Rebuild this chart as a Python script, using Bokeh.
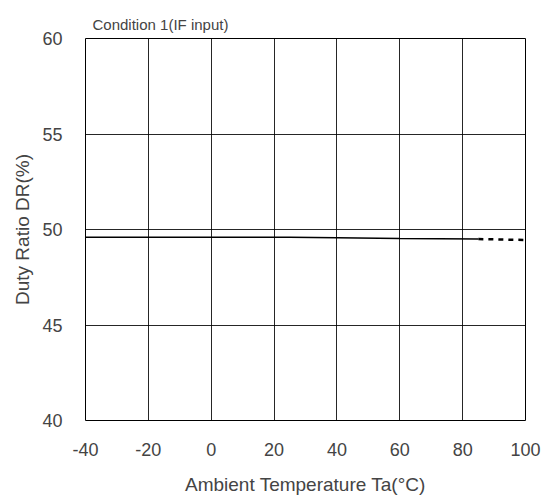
from bokeh.plotting import figure
from bokeh.models import FixedTicker, Range1d
from bokeh.embed import file_html
from bokeh.resources import INLINE

x_ticks = [-40, -20, 0, 20, 40, 60, 80, 100]
x_labels = ["-40", "-20", "0", "20", "40", "60", "80", "100"]
y_ticks = [40, 45, 50, 55, 60]

solid_t = [-40, -20, 0, 25, 40, 60, 85]
solid_dr = [49.6, 49.6, 49.6, 49.6, 49.57, 49.53, 49.5]
dash_t = [85, 100]
dash_dr = [49.5, 49.45]

p = figure(width=549, height=497, output_backend="svg", toolbar_location=None,
           x_range=Range1d(-40, 100), y_range=Range1d(40, 60),
           min_border_left=85, min_border_right=24, min_border_top=38, min_border_bottom=75)

p.title.text = "Condition 1(IF input)"
p.title.text_font = "Liberation Sans"
p.title.text_font_size = "15px"
p.title.text_font_style = "normal"
p.title.align = "left"
p.title.offset = 7
p.title.standoff = 11

p.line(solid_t, solid_dr, line_color="black", line_width=1.5)
p.line(dash_t, dash_dr, line_color="black", line_width=2.5, line_dash="5 5")

for ax in (p.xaxis, p.yaxis):
    ax.major_tick_line_color = None
    ax.minor_tick_line_color = None
    ax.axis_line_color = None
    ax.major_label_text_font = "Liberation Sans"
    ax.major_label_text_font_size = "18px"
    ax.axis_label_text_font = "Liberation Sans"
    ax.axis_label_text_font_size = "19px"
    ax.axis_label_text_font_style = "normal"

p.xaxis.ticker = FixedTicker(ticks=x_ticks)
p.xaxis.major_label_overrides = {t: s for t, s in zip(x_ticks, x_labels)}
p.yaxis.ticker = FixedTicker(ticks=y_ticks)
p.xaxis.axis_label = "Ambient Temperature Ta(°C)"
p.yaxis.axis_label = "Duty Ratio DR(%)"
p.xaxis.major_label_standoff = 16
p.yaxis.major_label_standoff = 17
p.xaxis.axis_label_standoff = 15
p.yaxis.axis_label_standoff = 6

p.grid.grid_line_color = "black"
p.grid.grid_line_alpha = 0.85
p.grid.grid_line_width = 1
p.xgrid.ticker = FixedTicker(ticks=x_ticks)
p.ygrid.ticker = FixedTicker(ticks=y_ticks)

p.outline_line_color = "black"
p.outline_line_width = 1
p.background_fill_color = "white"
p.border_fill_color = "white"

open("out.html", "w").write(file_html(p, INLINE))
